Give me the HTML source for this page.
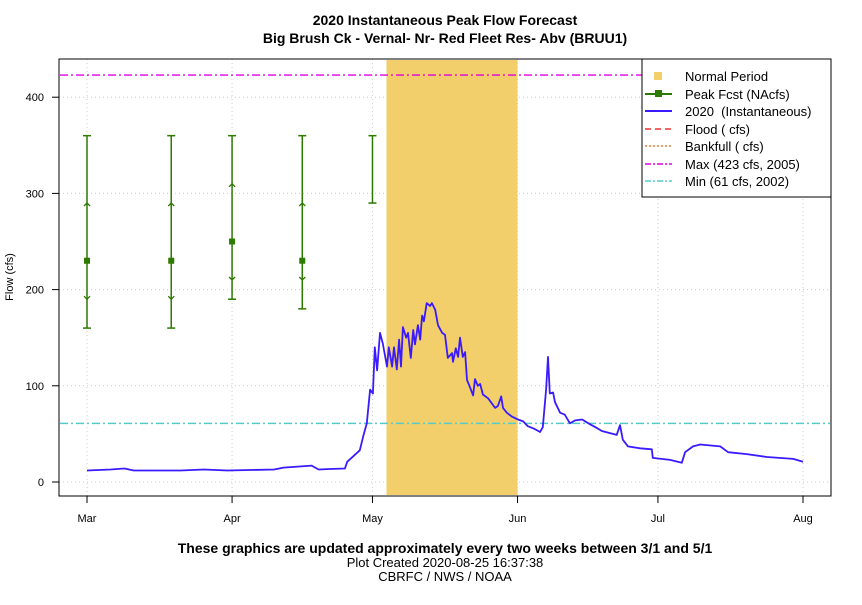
<!DOCTYPE html>
<html><head><meta charset="utf-8"><style>
body{margin:0;background:#fff;}
svg{font-family:"Liberation Sans",sans-serif;}
</style></head><body>
<svg id="chart" width="862" height="600" xmlns="http://www.w3.org/2000/svg">
<text x="445" y="25" text-anchor="middle" font-size="14" font-weight="bold">2020 Instantaneous Peak Flow Forecast</text>
<text x="445" y="43" text-anchor="middle" font-size="14" font-weight="bold">Big Brush Ck - Vernal- Nr- Red Fleet Res- Abv (BRUU1)</text>
<g id="grid"></g>
<g id="marks"></g>
<rect x="59" y="59" width="772" height="437" fill="none" stroke="#000"/>
<g id="axes"></g>
<text transform="translate(13,277) rotate(-90)" text-anchor="middle" font-size="11">Flow (cfs)</text>
<text x="445" y="553" text-anchor="middle" font-size="14" font-weight="bold">These graphics are updated approximately every two weeks between 3/1 and 5/1</text>
<text x="445" y="567" text-anchor="middle" font-size="13">Plot Created 2020-08-25 16:37:38</text>
<text x="445" y="581" text-anchor="middle" font-size="13">CBRFC / NWS / NOAA</text>
<g>
<rect x="642" y="59" width="189" height="138" fill="#fff" stroke="#000"/>
<rect x="654" y="72" width="8" height="8" fill="#f2cf6b"/>
<text x="685" y="81" font-size="13">Normal Period</text>
<line x1="645" y1="94" x2="672" y2="94" stroke="#2d7a00" stroke-width="2"/><rect x="655" y="90" width="7" height="7" fill="#2d7a00"/>
<text x="685" y="99" font-size="13">Peak Fcst (NAcfs)</text>
<line x1="645" y1="111" x2="672" y2="111" stroke="#3a1bff" stroke-width="2"/>
<text x="685" y="116" font-size="13">2020 &#160;(Instantaneous)</text>
<line x1="645" y1="129" x2="672" y2="129" stroke="#ee3333" stroke-width="1.5" stroke-dasharray="6,4"/>
<text x="685" y="134" font-size="13">Flood ( cfs)</text>
<line x1="645" y1="146" x2="672" y2="146" stroke="#f07a3a" stroke-width="1.5" stroke-dasharray="2,2"/>
<text x="685" y="151" font-size="13">Bankfull ( cfs)</text>
<line x1="645" y1="164" x2="672" y2="164" stroke="#e000e0" stroke-width="1.5" stroke-dasharray="6,2,2,2"/>
<text x="685" y="169" font-size="13">Max (423 cfs, 2005)</text>
<line x1="645" y1="181" x2="672" y2="181" stroke="#55cccc" stroke-width="1.5" stroke-dasharray="6,2,2,2"/>
<text x="685" y="186" font-size="13">Min (61 cfs, 2002)</text>
</g>
</svg>
<script>
const monthLabels=["Mar","Apr","May","Jun","Jul","Aug"];
const monthDays=[0,31,61,92,122,153];
const yTicks=[0,100,200,300,400];
const normalStart=64, normalEnd=92;
const maxFlow=423, minFlow=61;
const fcstDays=[0,18,31,46,61];
const fcstTop=[360,360,360,360,360];
const fcstUpper=[290,290,310,290,290];
const fcstMid=[230,230,250,230,null];
const fcstLower=[190,190,210,210,null];
const fcstBottom=[160,160,190,180,290];
const flowDays=[0,5,8,10,20,25,30,40,42,45,48,49.5,51.9,55.1,55.6,58.3,59.0,59.8,60.5,61.1,61.5,62.0,62.6,63.2,64.1,64.5,65.2,65.6,66.2,66.7,67.1,67.5,68.2,68.6,69.2,69.7,70.1,70.7,71.2,71.6,72.0,72.6,73.3,73.7,74.4,75.0,75.9,76.5,77.1,78.0,78.2,78.8,79.3,79.7,80.3,80.8,81.2,81.8,82.5,82.9,83.5,84.0,84.6,85.7,87.2,87.8,88.5,88.9,89.7,90.8,92.1,93.2,94.2,95.7,96.8,97.4,98.1,98.5,98.9,99.6,100.0,101.1,102.1,103.2,104.3,105.8,107.5,109.0,110.0,113.2,113.9,114.5,115.6,118.2,120.7,120.9,124.6,127.1,127.8,129.5,131.0,135.3,137.0,141.0,145.3,150.9,153];
const flowVals=[12,13,14,12,12,13,12,13,15,16,17,13,13.5,14,21,33,47,61,96,92,140,116,155,144,120,140,120,140,117,148,120,161,150,155,129,158,143,163,148,173,167,186,183,186,179,163,155,153,129,134,125,139,130,150,130,135,106,99,90,107,100,102,91,87,77,79,89,77,72,68,65,63,58,55,52,57,96,130,92,93,83,72,70,61,64,65,60,56,53,49,59,44,37,35,34,25,23,20,31,37,39,37,31,29,26,24,21];

const NS="http://www.w3.org/2000/svg";
const X=d=>87+d*(716/153);
const Y=v=>482-v*0.962;
function mk(tag,attrs,parent){const e=document.createElementNS(NS,tag);for(const k in attrs)e.setAttribute(k,attrs[k]);parent.appendChild(e);return e;}
const grid=document.getElementById('grid'),marks=document.getElementById('marks'),axes=document.getElementById('axes');

monthDays.forEach((d,i)=>{
 const g=mk('line',{x1:X(d),x2:X(d),y1:59,y2:496,stroke:'#ccc','stroke-dasharray':'1,3'},grid);
 
 
 const t=mk('line',{x1:X(d),x2:X(d),y1:496,y2:503,stroke:'#000'},axes);
 
 
 const l=mk('text',{x:X(d),y:522,'text-anchor':'middle','font-size':11},axes);
 l.textContent=monthLabels[i];
 
 
});
yTicks.forEach(v=>{
 const g=mk('line',{x1:59,x2:831,y1:Y(v),y2:Y(v),stroke:'#ccc','stroke-dasharray':'1,3'},grid);
 
 
 const t=mk('line',{x1:52,x2:59,y1:Y(v),y2:Y(v),stroke:'#000'},axes);
 
 
 const l=mk('text',{x:44,y:Y(v)+4,'text-anchor':'end','font-size':11},axes);
 l.textContent=v;
 
 
});

const np=mk('rect',{x:X(normalStart),y:60,width:X(normalEnd)-X(normalStart),height:435,fill:'#f2cf6b'},marks);



const mx=mk('line',{x1:60,x2:830,y1:Y(maxFlow),y2:Y(maxFlow),stroke:'#e000e0','stroke-width':1.3,'stroke-dasharray':'8,3,2,3'},marks);


const mn=mk('line',{x1:60,x2:830,y1:Y(minFlow),y2:Y(minFlow),stroke:'#55cccc','stroke-width':1.5,'stroke-dasharray':'8,3,2,3'},marks);



const fc='#2d7a00';
fcstDays.forEach((d,i)=>{
 const x=X(d);
 const g=mk('g',{},marks);
 
 
 mk('line',{x1:x,x2:x,y1:Y(fcstTop[i]),y2:Y(fcstBottom[i]),stroke:fc,'stroke-width':1.5},g);
 mk('line',{x1:x-4,x2:x+4,y1:Y(fcstTop[i]),y2:Y(fcstTop[i]),stroke:fc,'stroke-width':1.5},g);
 mk('line',{x1:x-4,x2:x+4,y1:Y(fcstBottom[i]),y2:Y(fcstBottom[i]),stroke:fc,'stroke-width':1.5},g);
 if(fcstMid[i]!==null){
  const yu=Y(fcstUpper[i]),yl=Y(fcstLower[i]);
  mk('path',{d:`M${x-3},${yu+3} L${x},${yu} L${x+3},${yu+3}`,fill:'none',stroke:fc,'stroke-width':1.3},g);
  mk('path',{d:`M${x-3},${yl-3} L${x},${yl} L${x+3},${yl-3}`,fill:'none',stroke:fc,'stroke-width':1.3},g);
  mk('rect',{x:x-3,y:Y(fcstMid[i])-3,width:6,height:6,fill:fc},g);
 }
});

const pts=flowDays.map((d,i)=>X(d).toFixed(1)+','+Y(flowVals[i]).toFixed(1)).join(' ');
const fl=mk('polyline',{points:pts,fill:'none',stroke:'#3a1bff','stroke-width':1.8,'stroke-linejoin':'round'},marks);


</script>
</body></html>
